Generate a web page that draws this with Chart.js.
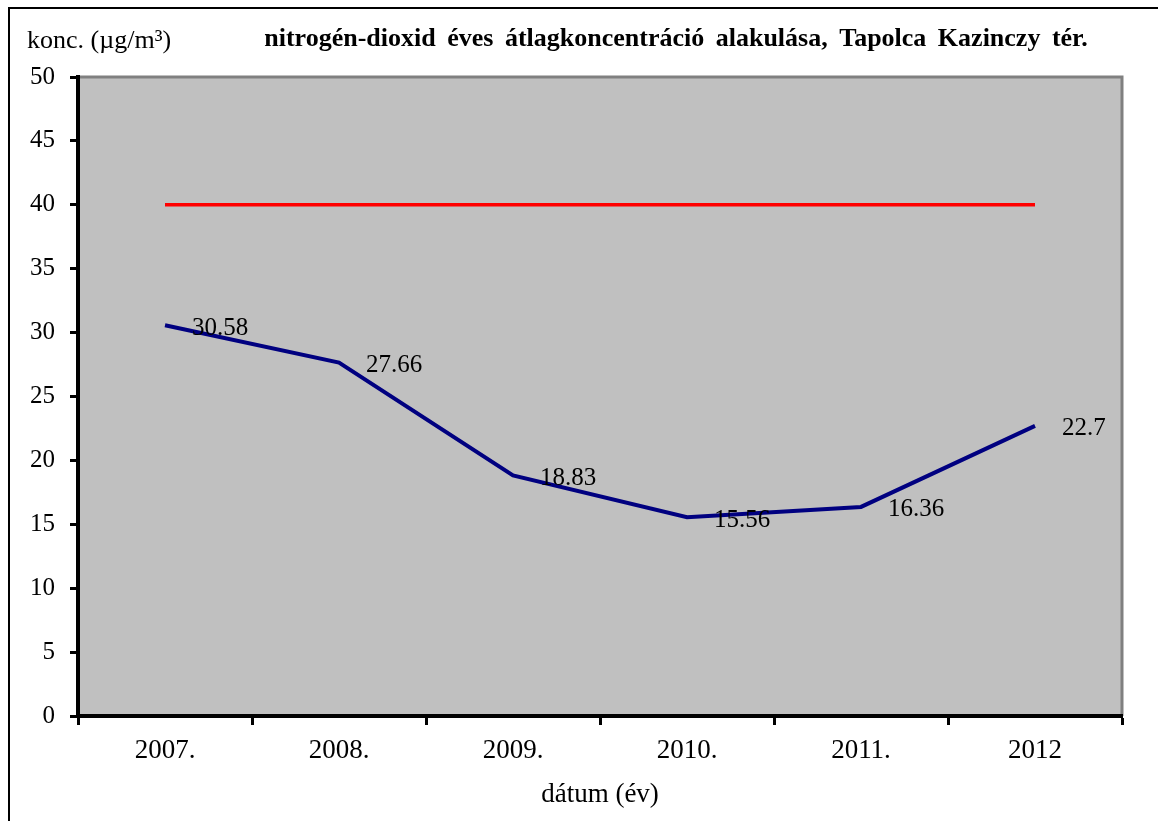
<!DOCTYPE html>
<html lang="hu">
<head>
  <meta charset="UTF-8" />
  <title>nitrogén-dioxid éves átlagkoncentráció alakulása, Tapolca Kazinczy tér</title>
  <script src="https://cdn.jsdelivr.net/npm/chart.js"></script>
  <style>
    body { margin: 0; background: #fff; }
    #wrap { width: 1158px; height: 821px; position: relative; }
  </style>
</head>
<body>
  <div id="wrap">
    <canvas id="no2Chart" width="1158" height="821"></canvas>
  </div>

  <script>
    // adatok
    const evek = ["2007.", "2008.", "2009.", "2010.", "2011.", "2012"];
    const koncentracio = [30.58, 27.66, 18.83, 15.56, 16.36, 22.7];
    const hatarertek = [40, 40, 40, 40, 40, 40];
    const yTicks = [0, 5, 10, 15, 20, 25, 30, 35, 40, 45, 50];

    const cimSzoveg = "nitrogén-dioxid éves átlagkoncentráció alakulása, Tapolca Kazinczy tér.";
    const yCim = "konc. (µg/m³)";
    const xCim = "dátum (év)";

    const serif = "'Liberation Serif', 'Times New Roman', serif";

    // szürke rajzterület + keret + feliratok
    const hatterPlugin = {
      id: "hatter",
      beforeDraw(chart) {
        const { ctx, chartArea: a } = chart;
        ctx.save();
        ctx.fillStyle = "#fff";
        ctx.fillRect(0, 0, chart.width, chart.height);
        // külső keret (bal és felső)
        ctx.strokeStyle = "#000";
        ctx.lineWidth = 2;
        ctx.beginPath();
        ctx.moveTo(9, chart.height);
        ctx.lineTo(9, 8);
        ctx.lineTo(chart.width, 8);
        ctx.stroke();
        ctx.fillStyle = "#c0c0c0";
        ctx.fillRect(a.left, a.top, a.right - a.left, a.bottom - a.top);
        ctx.strokeStyle = "#808080";
        ctx.lineWidth = 3;
        ctx.beginPath();
        ctx.moveTo(a.left, a.top);
        ctx.lineTo(a.right, a.top);
        ctx.lineTo(a.right, a.bottom);
        ctx.stroke();
        ctx.restore();
      },
      afterDraw(chart) {
        const { ctx } = chart;
        ctx.save();
        ctx.fillStyle = "#000";
        ctx.textBaseline = "middle";
        ctx.font = "bold 26px " + serif;
        ctx.textAlign = "center";
        if ("wordSpacing" in ctx) ctx.wordSpacing = "5px";
        ctx.fillText(cimSzoveg, 676, 39);
        if ("wordSpacing" in ctx) ctx.wordSpacing = "0px";
        ctx.font = "26px " + serif;
        ctx.textAlign = "left";
        ctx.fillText(yCim, 27, 41);
        ctx.restore();
      }
    };

    // értékcímkék a pontok mellett
    const cimkePlugin = {
      id: "cimkek",
      afterDatasetsDraw(chart) {
        const { ctx } = chart;
        const meta = chart.getDatasetMeta(1);
        ctx.save();
        ctx.font = "25px " + serif;
        ctx.fillStyle = "#000";
        ctx.textAlign = "left";
        ctx.textBaseline = "middle";
        meta.data.forEach((pt, i) => {
          ctx.fillText(String(koncentracio[i]), pt.x + 27, pt.y + 3);
        });
        ctx.restore();
      }
    };

    const ctx = document.getElementById("no2Chart").getContext("2d");
    new Chart(ctx, {
      type: "line",
      data: {
        labels: evek,
        datasets: [
          {
            label: "határérték",
            data: hatarertek,
            borderColor: "#ff0000",
            borderWidth: 3.5,
            pointRadius: 0,
            tension: 0
          },
          {
            label: "NO2",
            data: koncentracio,
            borderColor: "#000080",
            borderWidth: 4,
            pointRadius: 0,
            tension: 0
          }
        ]
      },
      options: {
        responsive: false,
        animation: false,
        layout: { padding: { left: 0, right: 36, top: 77, bottom: 0 } },
        plugins: {
          legend: { display: false },
          tooltip: { enabled: false }
        },
        scales: {
          x: {
            offset: true,
            afterFit(scale) { scale.height = 105; },
            grid: {
              offset: true,
              drawOnChartArea: false,
              drawTicks: true,
              tickLength: 9,
              tickColor: "#000",
              tickWidth: 3
            },
            border: { color: "#000", width: 4 },
            ticks: {
              color: "#000",
              font: { family: serif, size: 27 },
              padding: 10,
              maxRotation: 0
            },
            title: {
              display: true,
              text: xCim,
              color: "#000",
              font: { family: serif, size: 27 },
              padding: { top: 0, bottom: 10 }
            }
          },
          y: {
            min: 0,
            max: 50,
            afterFit(scale) { scale.width = 78; },
            afterBuildTicks(scale) { scale.ticks = yTicks.map(v => ({ value: v })); },
            grid: {
              drawOnChartArea: false,
              drawTicks: true,
              tickLength: 8,
              tickColor: "#000",
              tickWidth: 3
            },
            border: { color: "#000", width: 4 },
            ticks: {
              color: "#000",
              font: { family: serif, size: 25 },
              padding: 15
            }
          }
        }
      },
      plugins: [hatterPlugin, cimkePlugin]
    });
  </script>
</body>
</html>
